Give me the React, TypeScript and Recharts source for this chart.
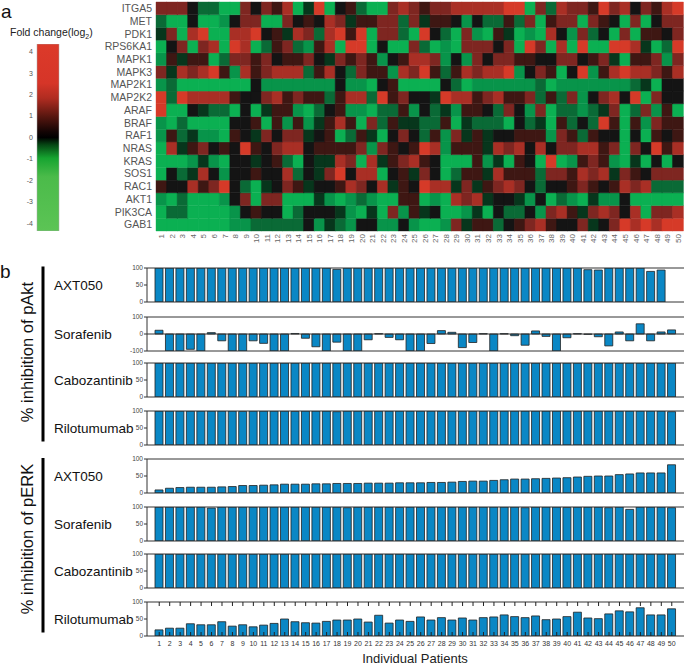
import React from 'react';
import { BarChart, Bar, XAxis, YAxis, Cell, ReferenceLine } from 'recharts';

// patients 1..50
const patients = [
  '1', '2', '3', '4', '5', '6', '7', '8', '9', '10',
  '11', '12', '13', '14', '15', '16', '17', '18', '19', '20',
  '21', '22', '23', '24', '25', '26', '27', '28', '29', '30',
  '31', '32', '33', '34', '35', '36', '37', '38', '39', '40',
  '41', '42', '43', '44', '45', '46', '47', '48', '49', '50',
];

const genes = [
  'ITGA5', 'MET', 'PDK1', 'RPS6KA1', 'MAPK1', 'MAPK3', 'MAP2K1', 'MAP2K2', 'ARAF',
  'BRAF', 'RAF1', 'NRAS', 'KRAS', 'SOS1', 'RAC1', 'AKT1', 'PIK3CA', 'GAB1',
];

// fold change (log2) per patient
const ITGA5 = [2,2,2,0,-2,-2,-4,-4,2,0, 2,1,3,-4,-1,4,-4,0,1,-2, -4,-4,2,3,2,1,2,2,3,3, 3,3,3,4,4,-4,2,-2,3,2, 2,1,4,2,3,0,2,1,3,4];
const MET = [-2,-4,-4,0,-4,-4,-3,0,2,2, -4,-4,2,0,1,0,3,2,-1,1, 1,2,2,-2,2,-1,1,1,0,-3, 0,-2,-2,1,-2,2,-4,1,2,2, -4,2,1,0,-4,2,-4,0,2,2];
const PDK1 = [-1,2,-4,3,4,-4,-4,3,3,4, 0,1,-1,3,2,-2,3,4,1,4, -4,2,2,-2,-4,4,0,-2,-4,2, -3,-4,1,-1,-4,-3,-4,3,0,-3, 2,-2,0,-4,2,-4,1,1,0,2];
const RPS6KA1 = [-4,0,2,-4,2,3,-4,4,3,-4, -2,1,2,-2,-3,1,3,-4,4,4, -4,0,-4,-4,2,-2,-4,-3,-4,2, 2,2,0,2,-4,4,2,-4,3,-4, 4,-4,-4,4,4,3,-1,-4,-2,4];
const MAPK1 = [-3,1,-1,1,1,-4,-2,2,2,1, 2,0,1,1,2,0,-1,2,1,2, 1,-3,0,1,3,3,2,-3,0,-3, 2,0,2,2,1,1,0,0,2,2, 0,1,2,-1,-4,1,1,2,-3,2];
const MAPK3 = [2,-1,3,2,3,4,1,-3,3,1, 2,3,3,3,-2,1,3,0,-2,2, 1,1,-3,3,2,4,1,-2,1,3, 2,3,3,4,-3,0,2,1,-4,0, 4,-3,1,3,4,3,3,2,1,3];
const MAP2K1 = [-3,-2,-4,-4,-4,-4,-4,-4,-4,0, -3,-3,-3,-3,-3,-3,-3,0,-3,-3, -4,0,1,-4,-4,-4,-4,0,-2,-4, -3,-3,-3,-3,-3,-3,-2,-4,-3,-3, -3,-3,-3,-3,-3,-2,-1,-4,0,0];
const MAP2K2 = [4,-2,4,3,3,3,3,1,0,0, 2,3,1,2,1,1,-2,1,3,3, -2,4,1,2,0,0,-1,4,3,3, 1,2,3,1,1,2,-2,1,-2,2, -3,0,2,3,0,4,-4,2,0,0];
const ARAF = [4,-4,-4,0,-1,-2,-2,-4,0,-4, -1,1,1,-3,-4,-2,0,1,-3,-3, -4,-2,-2,1,-3,0,-2,-1,-3,1, 1,0,-2,2,0,-3,2,-4,-2,-2, -3,-2,-1,2,-4,-2,2,-3,1,-4];
const BRAF = [-3,-4,-2,-4,-4,-4,-4,0,0,1, -4,1,-3,1,-3,-1,1,3,1,-4, 2,-2,1,-1,-1,-2,-2,1,-4,-1, -2,-2,-2,-4,0,-2,-1,-4,1,-2, 0,-2,4,1,-4,1,-3,2,1,1];
const RAF1 = [-3,1,-2,-1,-3,-3,-4,1,0,-1, 2,0,2,2,-1,0,1,-4,-2,1, -1,-4,0,2,0,-2,1,-3,2,-1, 1,-1,0,0,1,1,1,-3,2,1, -2,1,0,0,-4,0,-4,1,0,1];
const NRAS = [-4,3,-1,1,2,0,1,0,4,1, 0,2,3,3,0,1,1,1,1,2, -3,2,1,0,1,4,3,-3,1,1, 1,-1,3,2,3,0,3,0,2,2, 3,3,1,2,-4,2,0,4,1,3];
const KRAS = [-4,-4,-4,-3,-1,-3,-4,0,0,-1, 0,1,-2,-4,0,-1,-1,3,2,-4, 3,-1,1,2,3,1,0,-4,-4,-4, 1,-3,-1,-4,1,0,-4,4,-4,-3, 1,2,1,-3,-4,-1,-4,0,-4,0];
const SOS1 = [-4,0,-2,-1,3,0,-3,0,0,1, 0,0,3,-2,0,-1,2,4,0,3, 3,-4,0,1,-1,2,0,-4,-2,1, 1,-1,3,1,1,1,-2,2,2,1, 3,2,3,-1,2,1,0,2,2,2];
const RAC1 = [1,0,0,3,1,2,4,0,-2,-4, -1,0,2,1,-1,0,0,1,3,2, 0,3,-1,1,0,4,3,3,-1,2, -1,1,2,3,2,0,-2,0,0,1, 2,1,0,1,3,2,3,-2,-2,-2];
const AKT1 = [-3,-4,-2,-4,-4,-4,-3,0,2,-4, 2,2,-4,-4,-4,-1,-3,-4,-3,-2, -3,-4,-4,1,1,-4,-3,-4,3,2, 3,-1,0,0,-1,-3,0,-4,-2,-3, -4,-1,-3,-3,0,-4,-4,-4,-4,-4];
const PIK3CA = [-4,-2,-2,-4,-4,-4,-4,-3,0,1, 0,0,-4,-2,0,0,0,-1,-3,-4, -1,-4,2,-3,1,-1,0,-4,-4,-3, -1,-4,0,-2,-2,0,-3,2,3,1, -1,2,3,2,0,3,-4,2,2,3];
const GAB1 = [-4,-4,-4,-4,-4,-4,-4,-3,-3,-2, -2,-2,-2,-2,0,-3,-1,-2,-3,0, 0,-3,-3,0,-3,-4,-4,-3,2,-1, 1,1,-2,0,1,2,3,1,0,0, 2,-1,0,2,4,3,4,3,4,4];

const foldChange: Record<string, number[]> = {
  ITGA5, MET, PDK1, RPS6KA1, MAPK1, MAPK3, MAP2K1, MAP2K2, ARAF,
  BRAF, RAF1, NRAS, KRAS, SOS1, RAC1, AKT1, PIK3CA, GAB1,
};

const scaleTicks = [4, 3, 2, 1, 0, -1, -2, -3, -4];

// % inhibition of pAkt
const aktAXT050 = [100,100,100,100,100,100,100,100,100,100, 100,100,100,100,100,100,100,96,100,100, 100,100,100,100,100,100,100,100,100,100, 100,100,100,100,100,100,100,100,100,100, 100,95,94,100,100,100,100,90,94,null];
const aktSorafenib = [22,-100,-100,-90,-100,8,-40,-100,-100,-40, -55,-100,-100,3,-25,-75,-100,-48,-100,-100, -34,2,-20,-34,-100,-100,-56,20,10,-80, -50,2,-100,2,-10,-66,18,-14,-100,-22, 2,-2,-16,-70,12,-40,60,-40,12,24];
const aktCabozantinib = [100,100,100,100,100,100,100,100,100,100, 100,100,100,100,100,100,100,100,100,100, 100,100,100,100,100,100,100,100,100,100, 100,100,100,100,100,100,100,100,100,100, 100,100,100,100,100,100,100,100,100,100];
const aktRilotumumab = [100,100,100,100,100,100,100,100,99,100, 100,100,100,99,100,100,100,98,100,100, 100,100,100,100,100,100,100,100,100,100, 100,100,100,100,100,100,100,100,100,100, 100,100,100,100,100,100,100,100,100,98];

// % inhibition of pERK
const erkAXT050 = [9,14,16,17,17,17,18,19,22,22, 23,24,26,26,26,27,27,28,28,28, 29,29,29,30,30,30,31,31,32,34, 35,35,37,39,41,41,42,43,44,45, 47,49,50,50,54,56,59,59,59,83];
const erkSorafenib = [100,100,100,100,100,97,100,100,100,100, 100,100,100,100,100,100,100,100,98,100, 100,100,100,99,100,100,100,100,100,100, 100,100,100,100,100,98,100,100,100,99, 100,100,100,98,100,93,100,100,100,98];
const erkCabozantinib = [100,100,100,100,100,100,100,100,100,100, 100,100,100,100,100,100,100,100,100,100, 100,100,100,100,100,100,100,100,100,100, 100,100,100,100,100,100,100,100,100,100, 100,100,100,100,100,100,100,100,100,100];
const erkRilotumumab = [18,23,23,36,33,33,42,29,33,27, 32,37,50,42,39,38,43,47,47,50, 41,61,38,47,43,56,47,54,47,53, 47,54,56,62,57,54,59,48,50,57, 70,53,51,65,74,71,83,62,62,80];

const heatPalette: Record<string, string> = {
  '-4': '#0bb052',
  '-3': '#08944a',
  '-2': '#0a6a36',
  '-1': '#07361c',
  '0': '#141414',
  '1': '#3e1713',
  '2': '#7e2621',
  '3': '#a92f25',
  '4': '#d63a28',
};
const heatColor = (v: number) => heatPalette[String(v)] ?? '#141414';

const BAR_FILL = '#0a87c5';
const FONT = '"Liberation Sans", Arial, sans-serif';

const HeatTick = (props: any) => {
  const { x, y, payload } = props;
  const ax = x + 3;
  const ay = y + 3;
  return (
    <text x={ax} y={ay} transform={`rotate(-90, ${ax}, ${ay})`} textAnchor="end" fontSize={8} fill="#666">
      {payload.value}
    </text>
  );
};

const PatientTick = (props: any) => {
  const { x, y, payload } = props;
  return (
    <g>
      <line x1={x} x2={x} y1={y} y2={y - 4} stroke="#222" strokeWidth={1} />
      <text x={x} y={y + 9.5} textAnchor="middle" fontSize={7} fill="#333">{payload.value}</text>
    </g>
  );
};

const TopTick = (props: any) => {
  const { x, y } = props;
  return <line x1={x} x2={x} y1={y} y2={y + 4} stroke="#222" strokeWidth={1} />;
};

function Heatmap() {
  const rows = patients.map((p) => {
    const r: Record<string, any> = { p };
    genes.forEach((g) => { r[g] = 1; });
    return r;
  });
  const stackOrder = [...genes].reverse(); // GAB1 at the bottom
  return (
    <BarChart width={685} height={250} data={rows} margin={{ top: 2, right: 2, bottom: 0, left: 0 }} barCategoryGap={0} barGap={0}>
      <XAxis dataKey="p" interval={0} height={19} axisLine={false} tickLine={false} tickSize={0} tickMargin={0} tick={HeatTick} />
      <YAxis
        type="number"
        domain={[0, genes.length]}
        ticks={genes.map((_, i) => i + 0.5)}
        interval={0}
        tickFormatter={(v: number) => genes[genes.length - 1 - Math.floor(v)]}
        width={156}
        axisLine={false}
        tickLine={false}
        tickSize={0}
        tickMargin={4}
        tick={{ fontSize: 10.5, fill: '#555' }}
      />
      {stackOrder.map((g) => (
        <Bar key={g} dataKey={g} stackId="h" isAnimationActive={false}>
          {foldChange[g].map((v, i) => (
            <Cell key={i} fill={heatColor(v)} stroke={heatColor(v)} strokeWidth={0.4} />
          ))}
        </Bar>
      ))}
    </BarChart>
  );
}

function ColorScale() {
  const data = [{ k: 'scale', v: [-4.35, 4.35] }];
  return (
    <BarChart width={62} height={240} data={data} margin={{ top: 44, right: 3, bottom: 9, left: 0 }} barCategoryGap={0}>
      <defs>
        <linearGradient id="foldGrad" x1="0" y1="0" x2="0" y2="1">
          <stop offset="0%" stopColor="#dc3a2a" />
          <stop offset="21%" stopColor="#d63528" />
          <stop offset="29%" stopColor="#b02c21" />
          <stop offset="38.5%" stopColor="#5a1710" />
          <stop offset="47%" stopColor="#120404" />
          <stop offset="50%" stopColor="#000000" />
          <stop offset="54%" stopColor="#064814" />
          <stop offset="61%" stopColor="#16a430" />
          <stop offset="71%" stopColor="#4bbb4a" />
          <stop offset="100%" stopColor="#5cc455" />
        </linearGradient>
      </defs>
      <XAxis dataKey="k" hide />
      <YAxis
        type="number"
        domain={[-4.35, 4.35]}
        ticks={scaleTicks}
        interval={0}
        width={37}
        axisLine={false}
        tickLine={false}
        tickSize={2}
        tickMargin={2}
        tick={{ fontSize: 7, fill: '#555' }}
        allowDataOverflow
      />
      <Bar dataKey="v" fill="url(#foldGrad)" stroke="#aaa" strokeWidth={0.5} isAnimationActive={false} />
    </BarChart>
  );
}

interface PanelProps {
  values: (number | null)[];
  top: number;
  signed?: boolean;
  last?: boolean;
}

function Panel({ values, top, signed, last }: PanelProps) {
  const data = patients.map((p, i) => ({ p, v: values[i] }));
  const domain = signed ? [-100, 100] : [0, 100];
  const ticks = signed ? [-100, 0, 100] : [0, 50, 100];
  const h = last ? 58 : 45;
  return (
    <div style={{ position: 'absolute', left: 0, top: top - 6 }}>
      <BarChart width={685} height={h} data={data} margin={{ top: 5, right: 1, bottom: last ? 2 : 4, left: 0 }} barSize={8}>
        <YAxis
          yAxisId="l"
          width={147}
          domain={domain}
          ticks={ticks}
          interval={0}
          allowDataOverflow
          axisLine={{ stroke: '#333' }}
          tickLine={{ stroke: '#333' }}
          tickSize={3}
          tickMargin={1}
          tick={{ fontSize: 6.5, fill: '#444' }}
        />
        <YAxis
          yAxisId="r"
          orientation="right"
          width={0}
          domain={domain}
          ticks={ticks}
          interval={0}
          axisLine={{ stroke: '#333' }}
          tickLine={{ stroke: '#333' }}
          tickSize={3}
          tickFormatter={() => ''}
        />
        <Bar xAxisId="b" yAxisId="l" dataKey="v" fill={BAR_FILL} stroke="#222" strokeWidth={0.8} isAnimationActive={false} />
        {signed && <ReferenceLine xAxisId="b" yAxisId="l" y={0} stroke="#333" />}
        <XAxis
          xAxisId="b"
          dataKey="p"
          interval={0}
          padding={{ left: 7, right: 7 }}
          axisLine={{ stroke: '#333' }}
          tickLine={false}
          tickSize={0}
          tickMargin={0}
          height={last ? 16 : 1}
          tick={last ? PatientTick : false}
        />
        <XAxis
          xAxisId="t"
          orientation="top"
          dataKey="p"
          interval={0}
          padding={{ left: 7, right: 7 }}
          axisLine={{ stroke: '#333' }}
          tickLine={false}
          tickSize={0}
          tickMargin={0}
          height={1}
          tick={last ? TopTick : false}
        />
      </BarChart>
    </div>
  );
}

const panels = [
  { name: 'AXT050', values: aktAXT050, top: 268 },
  { name: 'Sorafenib', values: aktSorafenib, top: 317, signed: true },
  { name: 'Cabozantinib', values: aktCabozantinib, top: 363 },
  { name: 'Rilotumumab', values: aktRilotumumab, top: 411 },
  { name: 'AXT050', values: erkAXT050, top: 459 },
  { name: 'Sorafenib', values: erkSorafenib, top: 507 },
  { name: 'Cabozantinib', values: erkCabozantinib, top: 554 },
  { name: 'Rilotumumab', values: erkRilotumumab, top: 602, last: true },
];

export default function App() {
  return (
    <div style={{ position: 'absolute', left: 0, top: 0, width: 685, height: 667, background: '#fff', fontFamily: FONT, overflow: 'hidden' }}>
      <div style={{ position: 'absolute', left: 0, top: 0 }}>
        <Heatmap />
      </div>
      <div style={{ position: 'absolute', left: 0, top: 0 }}>
        <ColorScale />
      </div>
      {panels.map((pl, i) => (
        <Panel key={i} values={pl.values} top={pl.top} signed={pl.signed} last={pl.last} />
      ))}
      <svg width={685} height={667} style={{ position: 'absolute', left: 0, top: 0, pointerEvents: 'none' }} fontFamily={FONT}>
        <text x={1} y={17.5} fontSize={19} fill="#111">a</text>
        <text x={0} y={278} fontSize={19} fill="#111">b</text>
        <text x={10} y={36} fontSize={10.5} fill="#222">
          Fold change(log<tspan fontSize={7} dy={3}>2</tspan><tspan dy={-3}>)</tspan>
        </text>
        {panels.map((pl, i) => (
          <text key={i} x={54} y={pl.top + 22} fontSize={13.5} fill="#111">{pl.name}</text>
        ))}
        <rect x={41.5} y={266.5} width={3} height={175} fill="#000" />
        <rect x={41.5} y={458} width={3} height={174.5} fill="#000" />
        <text x={33} y={352} fontSize={16.5} textAnchor="middle" fill="#111" transform="rotate(-90, 33, 352)">% inhibition of pAkt</text>
        <text x={33} y={539} fontSize={16.5} textAnchor="middle" fill="#111" transform="rotate(-90, 33, 539)">% inhibition of pERK</text>
        <text x={415} y={663} fontSize={13} textAnchor="middle" fill="#222">Individual Patients</text>
      </svg>
    </div>
  );
}
